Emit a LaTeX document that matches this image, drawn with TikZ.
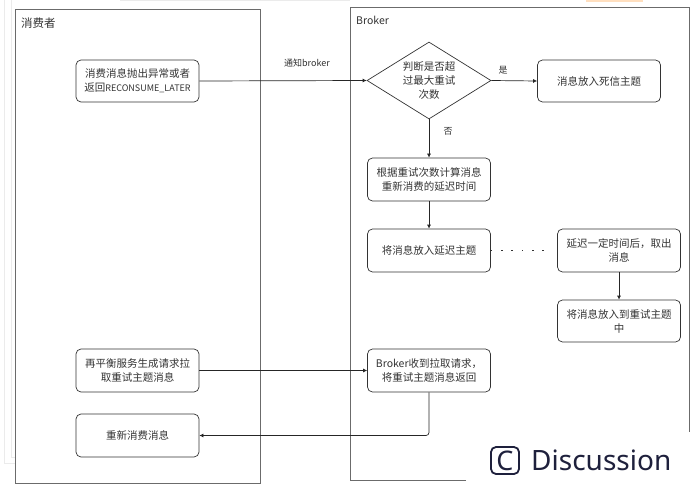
\documentclass[tikz,border=0pt]{standalone}
\usepackage{fontspec}
\setmainfont{Noto Sans CJK SC}
\newfontfamily\wmfont{Noto Sans}
\usetikzlibrary{arrows.meta,shapes.geometric}
\definecolor{framegray}{gray}{0.42}
\definecolor{ink}{gray}{0.2}
\definecolor{faint}{gray}{0.92}
\definecolor{wmink}{RGB}{30,32,60}
\tikzset{
  x=1pt,y=-1pt,
  flowbox/.style={draw=ink,line width=0.7pt,rounded corners=5pt,minimum width=123pt,inner sep=1pt,align=center,font=\fontsize{10.5}{14}\selectfont,text=ink,text width=121pt},
  decision/.style={draw=ink,line width=0.7pt,diamond,aspect=1.6,inner sep=0pt,minimum width=124pt,minimum height=77pt},
  flowline/.style={draw=black!85,line width=0.7pt,-{Latex[length=4pt,width=4pt]}},
  plainlabel/.style={font=\fontsize{9}{11}\selectfont,text=ink,inner sep=0pt},
  frametitle/.style={font=\fontsize{11.5}{14}\selectfont,text=ink,inner sep=0pt,anchor=west},
  framepath/.style={draw=framegray,line width=1pt},
}
\begin{document}
\begin{tikzpicture}
\useasboundingbox (0,0) rectangle (695,489);
% faint page remnants
\draw[faint,line width=1pt] (11,0) -- (11,457) -- (15,457);
\draw[faint,line width=1pt] (4,0) -- (4,463) -- (15,463);
\draw[faint,line width=1pt] (120,0.5) -- (350,0.5);
\fill[orange!25] (586,0) rectangle (643,2);
% frames
\node[draw=framegray,line width=1pt,minimum width=245pt,minimum height=473pt,inner sep=0pt] (consumer) at (137.5,246.5) {};
\coordinate (bl) at (350,480);
\coordinate (btl) at (350,8);
\coordinate (btr) at (689,8);
\coordinate (br) at (689,432);
\coordinate (be) at (466,480);
\draw[framepath] (be) -- (bl) -- (btl) -- (btr) -- (br);
\node[frametitle] (consumertitle) at (21,23) {消费者};
\node[frametitle,font=\fontsize{10.5}{14}\selectfont] (brokertitle) at (356,20.5) {Broker};
% nodes
\node[flowbox,minimum height=42pt] (n1) at (137.5,81) {消费消息抛出异常或者\\返回{\fontsize{9}{14}\selectfont RECONSUME\_LATER}};
\node[flowbox,minimum height=43pt] (n2) at (137.5,370.5) {再平衡服务生成请求拉\\取重试主题消息};
\node[flowbox,minimum height=43pt] (n3) at (137.5,435.5) {重新消费消息};
\node[decision] (dia) at (429,80.5) {};
\node[font=\fontsize{10.5}{14}\selectfont,text=ink,align=center,inner sep=0pt] (diatext) at (429,81) {判断是否超\\过最大重试\\次数};
\node[flowbox,minimum height=42pt] (dead) at (599,81) {消息放入死信主题};
\node[flowbox,minimum height=43pt] (calc) at (429,179.5) {根据重试次数计算消息\\重新消费的延迟时间};
\node[flowbox,minimum height=43pt] (delay) at (429,250.5) {将消息放入延迟主题};
\node[flowbox,minimum height=43pt] (wait) at (619,250.5) {延迟一定时间后，取出\\消息};
\node[flowbox,minimum height=42pt] (retry) at (619,321) {将消息放入到重试主题\\中};
\node[flowbox,minimum height=43pt] (brk) at (429,370.5) {Broker收到拉取请求，\\将重试主题消息返回};
% connectors
\draw[flowline] (n1.east) -- (dia.west);
\draw[flowline] (dia.east) -- (dead.west);
\draw[flowline] (dia.south) -- (calc.north);
\draw[flowline] (calc.south) -- (delay.north);
\draw[flowline] (wait.south) -- (retry.north);
\draw[flowline] (n2.east) -- (brk.west);
\draw[flowline,rounded corners=3pt] (brk.south) |- (n3.east);
\draw[ink,line width=1.5pt,dash pattern=on 1.5pt off 8.8pt,shorten >=5pt] (delay.east) -- (wait.west);
% labels
\node[plainlabel] (lnotify) at (307,63) {通知broker};
\node[plainlabel] (lyes) at (503,70) {是};
\node[plainlabel] (lno) at (448,131) {否};
% watermark
\node[draw=wmink,line width=1.8pt,rounded corners=5pt,minimum width=28pt,minimum height=27pt,inner sep=0pt,font=\wmfont\fontsize{27}{27}\selectfont,text=wmink] (wmicon) at (505,460.5) {C};
\node[font=\wmfont\fontsize{28}{30}\selectfont,text=wmink,inner sep=0pt,anchor=west] (wmtext) at (531,460.5) {Discussion};
\end{tikzpicture}
\end{document}
